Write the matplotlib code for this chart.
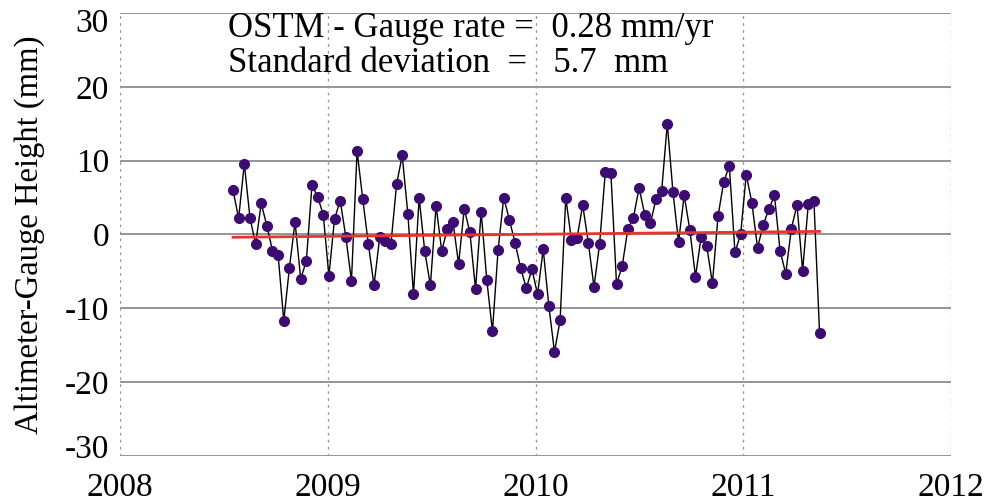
import numpy as np
from matplotlib import pyplot as plt
from matplotlib.transforms import ScaledTranslation

plt.rcParams["font.family"] = ["Liberation Serif", "DejaVu Serif"]
plt.rcParams["axes.unicode_minus"] = False

# altimeter minus tide gauge, one value per 9.9156-day repeat cycle
start_year = 2008.544
cycle_days = 9.9156
diff_mm = [
    6.0, 2.2, 9.6, 2.3, -1.3, 4.2, 1.2, -2.2, -2.8, -11.7,
    -4.5, 1.7, -6.0, -3.6, 6.7, 5.1, 2.7, -5.6, 2.1, 4.6,
    -0.3, -6.3, 11.3, 4.8, -1.3, -6.9, -0.4, -0.9, -1.3, 6.8,
    10.7, 2.8, -8.1, 5.0, -2.3, -6.9, 3.9, -2.2, 0.7, 1.7,
    -4.0, 3.5, 0.3, -7.4, 3.1, -6.2, -13.1, -2.1, 5.0, 2.0,
    -1.1, -4.5, -7.3, -4.7, -8.1, -2.0, -9.7, -15.9, -11.6, 5.0,
    -0.7, -0.5, 4.0, -1.1, -7.1, -1.3, 8.4, 8.3, -6.7, -4.3,
    0.7, 2.3, 6.3, 2.7, 1.5, 4.8, 5.9, 15.0, 5.8, -1.0,
    5.3, 0.6, -5.7, -0.4, -1.6, -6.6, 2.5, 7.1, 9.3, -2.4,
    0.0, 8.1, 4.3, -1.8, 1.3, 3.4, 5.3, -2.2, -5.3, 0.8,
    4.0, -4.9, 4.1, 4.6, -13.4,
]
rate = 0.28      # mm/yr
std_dev = 5.7    # mm

diff = np.array(diff_mm)
t = start_year + np.arange(len(diff)) * cycle_days / 365.25

# trend line with the quoted rate, through the mean point
trend = diff.mean() + rate * (t - t.mean())

fig = plt.figure(figsize=(10, 5.03), dpi=100)
ax = fig.add_axes([0.12, 0.0934, 0.831, 0.8808])

ax.plot(t, diff, color="black", lw=1.0, zorder=3)
ax.plot(t, diff, "o", color="#3d0c72", markersize=7, zorder=4)
ax.plot([t[0], t[-1]], [trend[0], trend[-1]], color="#e8342c", lw=2.0, zorder=5)

ax.set_xlim(2008, 2012)
ax.set_ylim(-30, 30)
ax.set_xticks([2008, 2009, 2010, 2011, 2012])
ax.set_yticks(np.arange(-30, 31, 10))
ax.tick_params(length=0, labelsize=24)
ax.tick_params(axis="x", pad=12)
ax.tick_params(axis="y", pad=8)

# keep the end labels inside the axes height
ylabs = ax.get_yticklabels()
ylabs[0].set_transform(ylabs[0].get_transform()
                       + ScaledTranslation(0, 0.10, fig.dpi_scale_trans))
ylabs[-1].set_transform(ylabs[-1].get_transform()
                        + ScaledTranslation(0, -0.07, fig.dpi_scale_trans))

ax.grid(False)
for y in np.arange(-30, 31, 10):
    ax.axhline(y, color="#8c8c8c", lw=1.3, zorder=1)
for x in [2008, 2009, 2010, 2011, 2012]:
    ax.axvline(x, color="#9a9a9a", lw=1.0, ls=(0, (2, 3)), zorder=1)
for s in ax.spines.values():
    s.set_visible(False)

ax.set_ylabel("Altimeter-Gauge Height (mm)", fontsize=23.5, labelpad=14)

ax.text(0.13, 0.946, "OSTM - Gauge rate =  %.2f mm/yr" % rate,
        transform=ax.transAxes, fontsize=25, va="baseline", ha="left")
ax.text(0.13, 0.867, "Standard deviation  =   %.1f  mm" % std_dev,
        transform=ax.transAxes, fontsize=25, va="baseline", ha="left")

fig.savefig("out.png")
